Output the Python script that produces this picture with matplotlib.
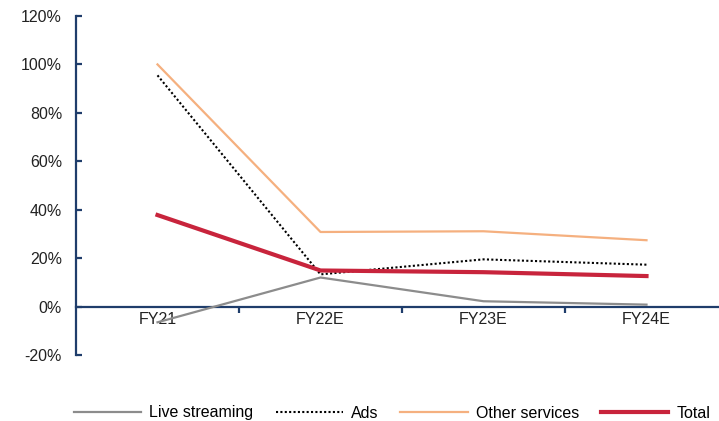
import numpy as np
import matplotlib
matplotlib.use("Agg")
import matplotlib.pyplot as plt
from matplotlib.ticker import FuncFormatter

plt.rcParams['font.family'] = ['Liberation Sans', 'DejaVu Sans']

years = ['FY21', 'FY22E', 'FY23E', 'FY24E']
live_streaming = [-6.5, 12.0, 2.2, 0.8]
ads = [95.5, 13.3, 19.5, 17.3]
other_services = [100.0, 30.8, 31.1, 27.4]
total = [37.8, 14.9, 14.2, 12.6]

navy = '#1F3D6B'
fs = 11.5

fig = plt.figure(figsize=(7.19, 4.21), dpi=100)
ax = fig.add_axes([76 / 719, 66 / 421, 652 / 719, 339 / 421])

x = np.arange(len(years))
ax.plot(x, live_streaming, color='#8C8C8C', lw=1.6, label='Live streaming', zorder=3)
ax.plot(x, ads, color='black', lw=1.5, ls=(0, (1, 1.1)), label='Ads', zorder=4)
ax.plot(x, other_services, color='#F5B07F', lw=1.6, label='Other services', zorder=3)
ax.plot(x, total, color='#C8243C', lw=3.0, label='Total', zorder=5)

ax.set_xlim(-0.5, len(years) - 0.5)
ax.set_ylim(-20, 120)
ax.set_yticks(range(-20, 121, 20))
ax.yaxis.set_major_formatter(FuncFormatter(lambda v, p: f'{v:.0f}%'))

for s in ['top', 'right']:
    ax.spines[s].set_visible(False)
ax.spines['bottom'].set_position(('data', 0))
for s in ['left', 'bottom']:
    ax.spines[s].set_color(navy)
    ax.spines[s].set_linewidth(1.6)

ax.set_xticks(x)
ax.set_xticklabels(years)
ax.set_xticks(np.arange(0.5, len(years) - 0.5, 1), minor=True)
ax.tick_params(axis='x', which='major', length=0, pad=4, labelsize=fs, labelcolor='#222222')
ax.tick_params(axis='x', which='minor', direction='out', length=4, width=1.6, color=navy)
ax.tick_params(axis='y', direction='in', length=4, width=1.6, color=navy, pad=10,
               labelsize=fs, labelcolor='#222222')

fig.legend(loc='center left', bbox_to_anchor=(74 / 719, 1 - 413 / 421), ncol=4, frameon=False,
           fontsize=fs, handlelength=4.2, handletextpad=0.5, columnspacing=1.4,
           borderpad=0, borderaxespad=0)

fig.savefig('out.png', dpi=100)
